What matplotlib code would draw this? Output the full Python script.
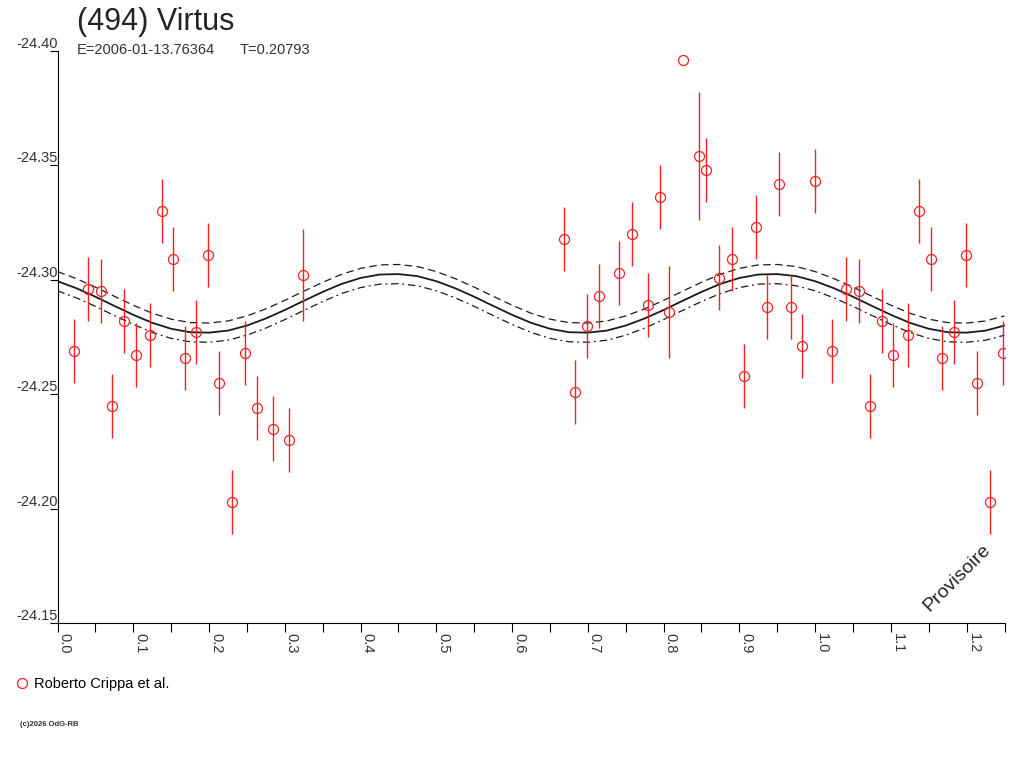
import numpy as np
import matplotlib
matplotlib.use("Agg")
import matplotlib.pyplot as plt
from matplotlib.ticker import MultipleLocator, FormatStrFormatter

plt.rcParams['font.family'] = ['Liberation Sans', 'DejaVu Sans']

# observations (phase 0..1), reduced magnitude and error
phase = [0.0222, 0.0403, 0.0575, 0.0724, 0.0878, 0.1033, 0.1222, 0.1376, 0.1530, 0.1680,
         0.1834, 0.1988, 0.2137, 0.2309, 0.2481, 0.2635, 0.2847, 0.3058, 0.3247,
         0.6682, 0.6836, 0.6991, 0.7153, 0.7408, 0.7585, 0.7791, 0.7950, 0.8065, 0.8254,
         0.8465, 0.8557, 0.8734, 0.8906, 0.9059, 0.9214, 0.9369, 0.9522, 0.9676, 0.9826,
         0.9997]
mag = [-24.269, -24.296, -24.295, -24.245, -24.282, -24.267, -24.276, -24.330, -24.309, -24.266,
       -24.277, -24.311, -24.255, -24.203, -24.268, -24.244, -24.235, -24.230, -24.302,
       -24.318, -24.251, -24.280, -24.293, -24.303, -24.320, -24.289, -24.336, -24.286, -24.396,
       -24.354, -24.348, -24.301, -24.309, -24.258, -24.323, -24.288, -24.342, -24.288, -24.271,
       -24.343]
err = [0.014, 0.014, 0.014, 0.014, 0.014, 0.014, 0.014, 0.014, 0.014, 0.014,
       0.014, 0.014, 0.014, 0.014, 0.014, 0.014, 0.014, 0.014, 0.020,
       0.014, 0.014, 0.014, 0.014, 0.014, 0.014, 0.014, 0.014, 0.020, 0.0,
       0.028, 0.014, 0.014, 0.014, 0.014, 0.014, 0.014, 0.014, 0.014, 0.014,
       0.014]

# fitted lightcurve read every 0.025 in phase (0 .. 0.975)
fit_mag = [-24.2994, -24.2963, -24.2926, -24.2886, -24.2847, -24.2812, -24.2786, -24.2771,
           -24.2769, -24.2778, -24.2800, -24.2831, -24.2868, -24.2908, -24.2947, -24.2982,
           -24.3008, -24.3023, -24.3025, -24.3016,
           -24.2994, -24.2963, -24.2926, -24.2886, -24.2847, -24.2812, -24.2786, -24.2771,
           -24.2769, -24.2778, -24.2800, -24.2831, -24.2868, -24.2908, -24.2947, -24.2982,
           -24.3008, -24.3023, -24.3025, -24.3016]
fit_sigma = 0.0042

title = "(494) Virtus"
epoch = "E=2006-01-13.76364"
period = "T=0.20793"
observer = "Roberto Crippa et al."

# repeat the first quarter of the phase after 1.0
x_max = 1.25
phase = np.array(phase)
mag = np.array(mag)
err = np.array(err)
extra = phase + 1 <= x_max
ph_all = np.concatenate([phase, phase[extra] + 1])
mag_all = np.concatenate([mag, mag[extra]])
err_all = np.concatenate([err, err[extra]])

fit_mag = np.array(fit_mag)
fit_ph = np.arange(len(fit_mag)) * 0.025
n_extra = int(round(x_max / 0.025)) + 1 - len(fit_mag)
fit_ph = np.concatenate([fit_ph, fit_ph[:n_extra] + 1])
fit_all = np.concatenate([fit_mag, fit_mag[:n_extra]])

fig = plt.figure(figsize=(10.24, 7.68), dpi=100)
ax = fig.add_axes([57.5 / 1024, 1 - 623 / 768, (1004.5 - 57.5) / 1024, (623 - 51) / 768])

ax.plot(fit_ph, fit_all, color='#1a1a1a', lw=1.3)
ax.plot(fit_ph, fit_all - fit_sigma, color='#1a1a1a', lw=0.9, dashes=(6, 3.5))
ax.plot(fit_ph, fit_all + fit_sigma, color='#1a1a1a', lw=0.9, dashes=(6, 3, 1.5, 3))

ax.errorbar(ph_all, mag_all, yerr=err_all, fmt='none', ecolor='#ee2222', elinewidth=1.0)
ax.plot(ph_all, mag_all, 'o', mfc='none', mec='#ee2222', mew=0.9, ms=7.2, label=observer)

ax.set_xlim(0, x_max)
ax.set_ylim(-24.15, -24.40)

ax.spines['top'].set_visible(False)
ax.spines['right'].set_visible(False)
ax.spines['left'].set_linewidth(0.8)
ax.spines['bottom'].set_linewidth(0.8)

ax.xaxis.set_major_locator(MultipleLocator(0.1))
ax.xaxis.set_minor_locator(MultipleLocator(0.05))
ax.xaxis.set_major_formatter(FormatStrFormatter('%.1f'))
ax.yaxis.set_major_locator(MultipleLocator(0.05))
ax.yaxis.set_major_formatter(FormatStrFormatter('%.2f'))

ax.tick_params(axis='x', which='both', direction='out', length=6.5, width=0.8, pad=1,
               labelsize=10.5, labelcolor='#333333')
ax.tick_params(axis='y', direction='out', length=6, width=0.8, pad=-6,
               labelsize=10.5, labelcolor='#333333')
for lbl in ax.get_xticklabels():
    lbl.set_rotation(-90)
    lbl.set_ha('left')
    lbl.set_va('top')
for lbl in ax.get_yticklabels():
    lbl.set_va('bottom')

fig.text(77 / 1024, 1 - 30 / 768, title, fontsize=22, color='#222222', va='baseline')
fig.text(77 / 1024, 1 - 54 / 768, epoch, fontsize=10.5, color='#333333', va='baseline')
fig.text(240 / 1024, 1 - 54 / 768, period, fontsize=10.5, color='#333333', va='baseline')

ax.text(0.950, 0.079, "Provisoire", transform=ax.transAxes, rotation=45,
        fontsize=14, color='#222222', ha='center', va='center')

ax.legend(loc='upper left', bbox_to_anchor=(18 / 1024, 1 - 677 / 768),
          bbox_transform=fig.transFigure, frameon=False, fontsize=10.5,
          handlelength=0.6, handletextpad=0.5, borderpad=0, borderaxespad=0)

fig.text(20 / 1024, 1 - 724 / 768, "(c)2026 OdG-RB", fontsize=5.5, color='#333333',
         va='center', fontweight='bold')

fig.savefig("out.png", dpi=100)
